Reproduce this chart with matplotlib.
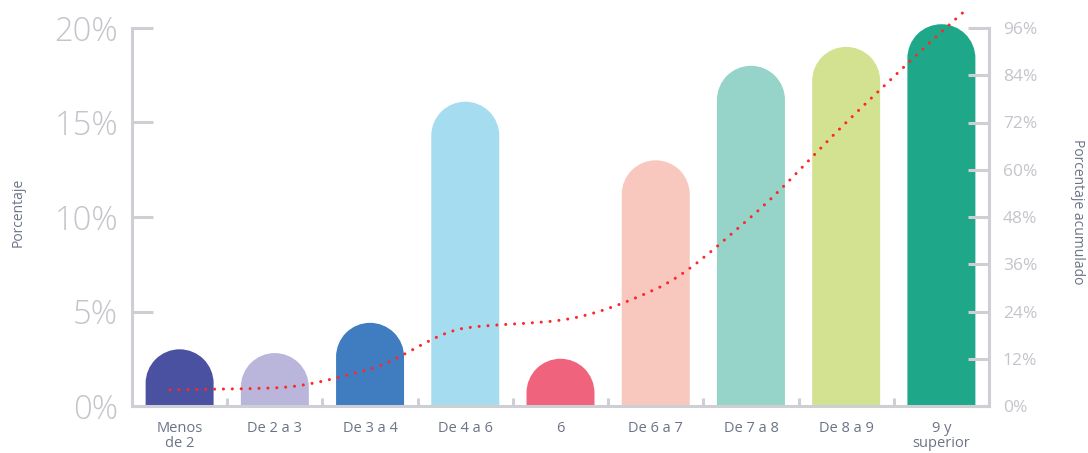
import numpy as np
import matplotlib
matplotlib.use("Agg")
import matplotlib.pyplot as plt
from matplotlib.path import Path
from matplotlib.patches import PathPatch
from matplotlib.transforms import Affine2D

# ---- data ----
categories = ["Menos\nde 2", "De 2 a 3", "De 3 a 4", "De 4 a 6", "6",
              "De 6 a 7", "De 7 a 8", "De 8 a 9", "9 y\nsuperior"]
percent = [3.0, 2.8, 4.4, 16.1, 2.5, 13.0, 18.0, 19.0, 20.2]
bar_colors = ["#4a51a0", "#bab6db", "#3f7dc0", "#a5dcef", "#f0637d",
              "#f8c8bf", "#96d4c9", "#d3e290", "#1fa78a"]
cum_x = [-0.1, 1, 2, 3, 4, 5, 6, 7, 8, 8.23]
cum_y = [4.1, 4.6, 9.4, 19.8, 21.8, 29.7, 48.0, 72.0, 95.0, 100.0]
left_ticks = [0, 5, 10, 15, 20]
right_ticks = [0, 12, 24, 36, 48, 60, 72, 84, 96]

plt.rcParams['font.family'] = ['Open Sans', 'DejaVu Sans']

W, H, DPI = 10.88, 4.53, 100
fig = plt.figure(figsize=(W, H), dpi=DPI)
L, R, B, T = 132, 989, 406, 28
ax = fig.add_axes([L / 1088, 1 - B / 453, (R - L) / 1088, (B - T) / 453])
ax2 = ax.twinx()

grey = "#cdcfd4"
tickgrey = "#c3c5cb"
labgrey = "#6b7385"

xmin, xmax = -0.5, 8.5
ax.set_xlim(xmin, xmax)
ax.set_ylim(0, 20)
ax2.set_ylim(0, 96)

# bars with semicircular tops
bw = 0.714
px_x = (R - L) / (xmax - xmin)
px_y = (B - T) / 20.0
hw = bw / 2
ry = hw * px_x / px_y
arc = Path.arc(0, 180)
for i, (v, c) in enumerate(zip(percent, bar_colors)):
    tr = Affine2D().scale(hw, ry).translate(i, v - ry)
    av = tr.transform(arc.vertices)
    verts = [(i + hw, 0)] + list(map(tuple, av)) + [(i - hw, 0), (i + hw, 0)]
    codes = [Path.MOVETO, Path.LINETO] + list(arc.codes[1:]) + [Path.LINETO, Path.CLOSEPOLY]
    ax.add_patch(PathPatch(Path(verts, codes), facecolor=c, edgecolor='none',
                           clip_on=False, zorder=2))

# smooth cumulative line (monotone cubic Hermite as Bezier)
xs = np.array(cum_x, float)
ys = np.array(cum_y, float)
h = np.diff(xs)
d = np.diff(ys) / h
m = np.zeros_like(ys)
m[0], m[-1] = d[0], d[-1]
for k in range(1, len(ys) - 1):
    if d[k - 1] * d[k] <= 0:
        m[k] = 0
    else:
        w1 = 2 * h[k] + h[k - 1]
        w2 = h[k] + 2 * h[k - 1]
        m[k] = (w1 + w2) / (w1 / d[k - 1] + w2 / d[k])
verts = [(xs[0], ys[0])]
codes = [Path.MOVETO]
for k in range(len(xs) - 1):
    verts += [(xs[k] + h[k] / 3, ys[k] + m[k] * h[k] / 3),
              (xs[k + 1] - h[k] / 3, ys[k + 1] - m[k + 1] * h[k] / 3),
              (xs[k + 1], ys[k + 1])]
    codes += [Path.CURVE4] * 3
line = PathPatch(Path(verts, codes), facecolor='none', edgecolor='#ff2626',
                 lw=2.2, linestyle=(0, (0.01, 2.9)), capstyle='round',
                 clip_on=False, zorder=5)
ax2.add_patch(line)

# spines
for s in ['top']:
    ax.spines[s].set_visible(False)
    ax2.spines[s].set_visible(False)
ax.spines['right'].set_visible(False)
ax2.spines['left'].set_visible(False)
ax2.spines['bottom'].set_visible(False)
for sp in [ax.spines['left'], ax.spines['bottom'], ax2.spines['right']]:
    sp.set_color(grey)
    sp.set_linewidth(2.2)
ax.spines['left'].set_bounds(0, 20)
ax2.spines['right'].set_bounds(0, 96)

# left ticks
ax.set_yticks(left_ticks)
ax.set_yticklabels([f"{t}%" for t in left_ticks])
ax.tick_params(axis='y', direction='in', length=15, width=2.2, color=grey,
               labelsize=23.5, labelcolor=tickgrey, pad=10)
for lab in ax.get_yticklabels():
    lab.set_fontweight('light')

# right ticks
ax2.set_yticks(right_ticks)
ax2.set_yticklabels([f"{t}%" for t in right_ticks])
ax2.tick_params(axis='y', direction='in', length=15, width=2.2, color=grey,
                labelsize=12.5, labelcolor=tickgrey, pad=10)

# x ticks
ax.set_xticks(range(len(categories)))
ax.set_xticklabels(categories, linespacing=1.0)
ax.set_xticks(np.arange(0.5, len(categories) - 1, 1.0), minor=True)
ax.tick_params(axis='x', which='major', length=0, labelsize=10.5,
               labelcolor=labgrey, pad=11)
ax.tick_params(axis='x', which='minor', direction='in', length=6, width=2.2,
               color=grey)

fig.text(18 / 1088, 1 - 212 / 453, "Porcentaje", rotation=90, ha='center',
         va='center', fontsize=10, color=labgrey)
fig.text(1078 / 1088, 1 - 212 / 453, "Porcentaje acumulado", rotation=270,
         ha='center', va='center', fontsize=10, color=labgrey)

fig.savefig("out.png", dpi=DPI)
